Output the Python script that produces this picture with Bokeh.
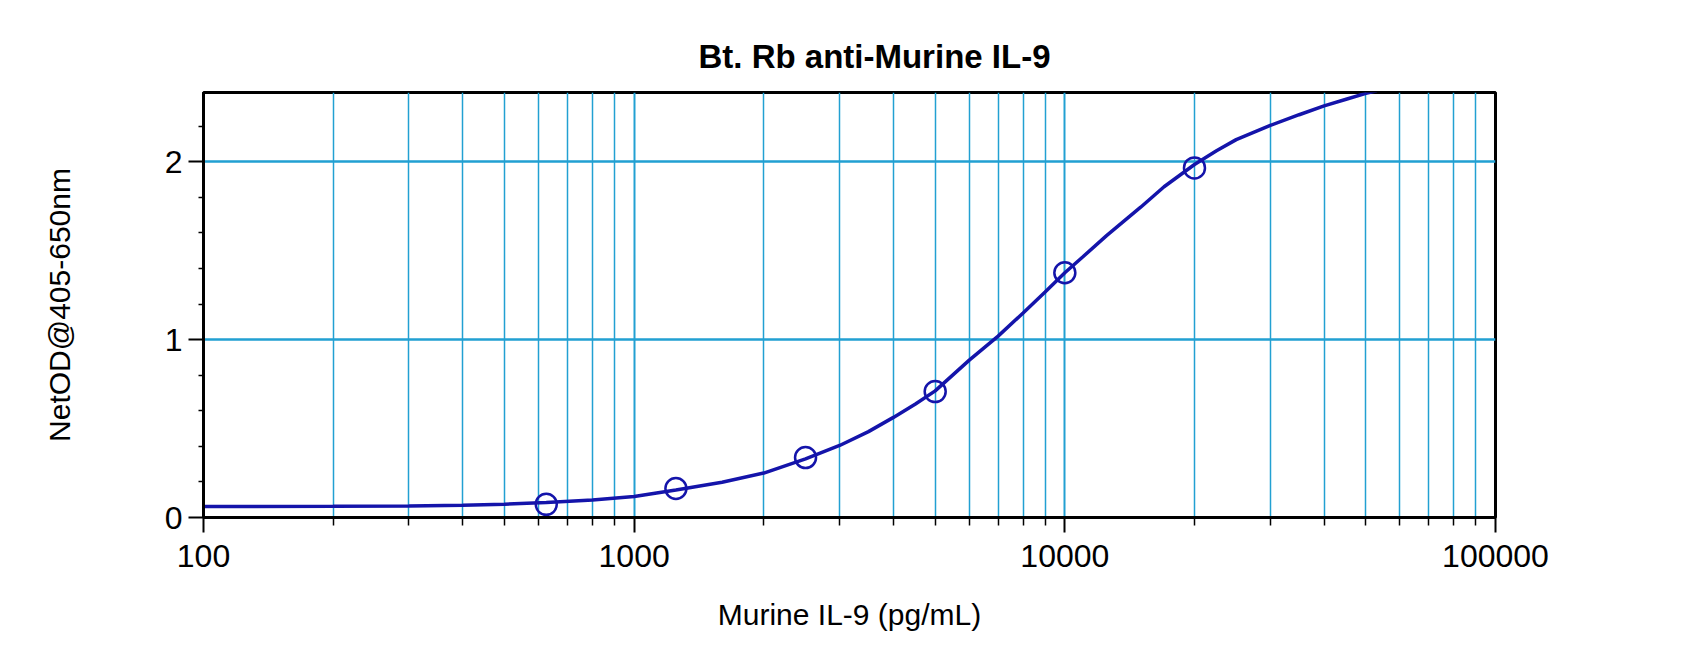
from bokeh.plotting import figure
from bokeh.embed import file_html
from bokeh.resources import INLINE
from bokeh.models import FixedTicker, Range1d

# standard points (pg/mL) and net OD
conc = [625, 1250, 2500, 5000, 10000, 20000]
od = [0.074, 0.163, 0.337, 0.708, 1.376, 1.966]

# fitted curve
curve_x = [100, 200, 300, 400, 500, 625, 800, 1000, 1250, 1600, 2000, 2500,
           3000, 3500, 4000, 4500, 5000, 6000, 7000, 8000, 9000, 10000, 11000,
           12500, 15000, 17000, 20000, 22500, 25000, 30000, 35000, 40000,
           45000, 50000, 53000]
curve_y = [0.062, 0.063, 0.065, 0.069, 0.075, 0.084, 0.098, 0.118, 0.155,
           0.198, 0.250, 0.330, 0.405, 0.483, 0.563, 0.638, 0.712, 0.885,
           1.020, 1.150, 1.268, 1.376, 1.465, 1.585, 1.745, 1.860, 1.985,
           2.062, 2.125, 2.205, 2.265, 2.315, 2.352, 2.385, 2.40]

x_major = [100, 1000, 10000, 100000]
x_minor = [m * d for d in [100, 1000, 10000] for m in range(2, 10)]
y_major = [0, 1, 2]
y_minor = [0.2, 0.4, 0.6, 0.8, 1.2, 1.4, 1.6, 1.8, 2.2]

FONT = "Liberation Sans"
GRID = "#22a0d2"
BLUE = "#1414aa"

p = figure(
    width=1684, height=634, x_axis_type="log",
    x_range=Range1d(100, 100000), y_range=Range1d(0, 2.39),
    title="Bt. Rb anti-Murine IL-9",
    toolbar_location=None, tools="", output_backend="svg",
    min_border_left=203, min_border_right=189,
    min_border_top=92, min_border_bottom=117,
)

p.line(curve_x, curve_y, line_color=BLUE, line_width=3.5)
p.scatter(conc, od, size=21, fill_color=None, line_color=BLUE, line_width=2.5)

# title
p.title.text_font = FONT
p.title.text_font_size = "33px"
p.title.text_font_style = "bold"
p.title.text_color = "black"
p.title.align = "left"
p.title.offset = 495
p.title.standoff = 36

p.outline_line_color = "black"
p.outline_line_width = 3
p.background_fill_color = "white"
p.border_fill_color = "white"

p.xaxis.ticker = FixedTicker(ticks=x_major, minor_ticks=x_minor)
p.yaxis.ticker = FixedTicker(ticks=y_major, minor_ticks=y_minor)
p.xaxis.major_label_overrides = {100: "100", 1000: "1000", 10000: "10000", 100000: "100000"}

for ax in (p.xaxis, p.yaxis):
    ax.axis_line_color = "black"
    ax.axis_line_width = 3
    ax.major_tick_line_color = "black"
    ax.minor_tick_line_color = "black"
    ax.major_tick_line_width = 2
    ax.minor_tick_line_width = 1.5
    ax.major_tick_in = 0
    ax.minor_tick_in = 0
    ax.major_tick_out = 15
    ax.major_label_text_font = FONT
    ax.major_label_text_font_size = "32px"
    ax.major_label_text_color = "black"
    ax.axis_label_text_font = FONT
    ax.axis_label_text_font_size = "30px"
    ax.axis_label_text_font_style = "normal"
    ax.axis_label_text_color = "black"

p.xaxis.minor_tick_out = 8
p.yaxis.minor_tick_out = 5
p.xaxis.major_label_standoff = 12
p.yaxis.major_label_standoff = 6
p.xaxis.axis_label = "Murine IL-9 (pg/mL)"
p.yaxis.axis_label = "NetOD@405-650nm"
p.xaxis.axis_label_standoff = 28
p.yaxis.axis_label_standoff = 86

p.xgrid.grid_line_color = GRID
p.xgrid.grid_line_width = 2
p.xgrid.minor_grid_line_color = GRID
p.xgrid.minor_grid_line_width = 1.5
p.ygrid.grid_line_color = GRID
p.ygrid.grid_line_width = 2.5

open("out.html", "w").write(file_html(p, INLINE))
